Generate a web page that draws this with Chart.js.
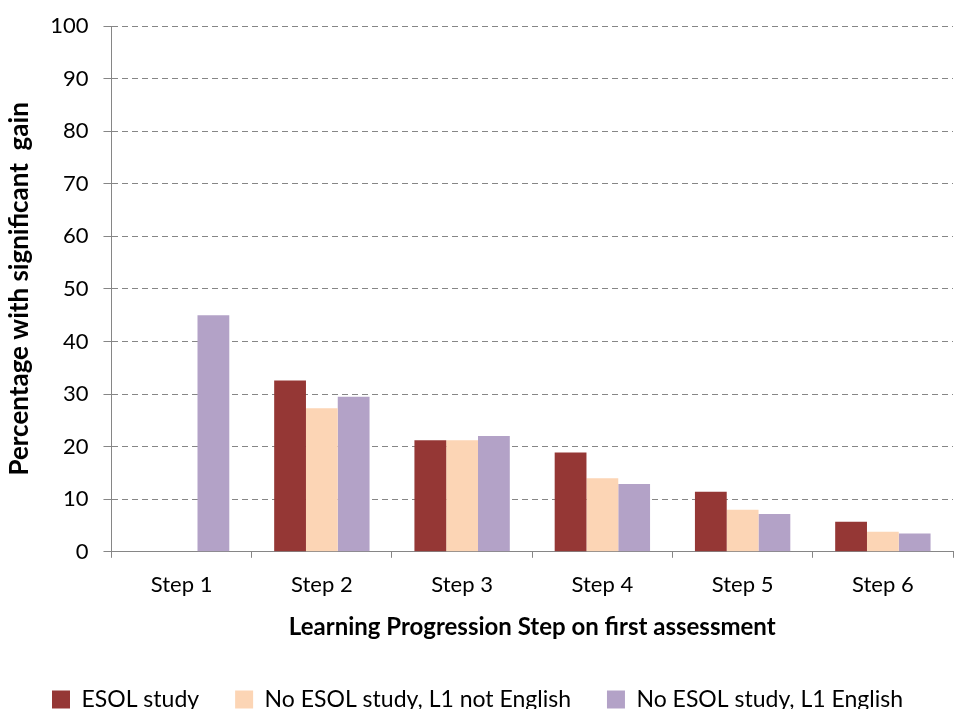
<!DOCTYPE html>
<html>
<head>
<meta charset="utf-8">
<script src="https://cdn.jsdelivr.net/npm/chart.js@4"></script>
<style>
  html, body { margin: 0; padding: 0; background: #fff; overflow: hidden; }
  #wrap { width: 958px; height: 721px; }
</style>
</head>
<body>
<div id="wrap"><canvas id="gainChart"></canvas></div>
<script>
// categories and series
const steps = ['Step 1', 'Step 2', 'Step 3', 'Step 4', 'Step 5', 'Step 6'];
const esolStudy = [0, 32.6, 21.2, 18.9, 11.4, 5.7];
const noEsolNotEnglish = [0, 27.3, 21.2, 14.0, 8.0, 3.8];
const noEsolEnglish = [45.0, 29.5, 22.0, 12.9, 7.2, 3.5];

const seriesNames = ['ESOL study', 'No ESOL study, L1 not English', 'No ESOL study, L1 English'];
const seriesColors = ['#953735', '#FCD5B5', '#B3A2C7'];

const gridGrey = '#868686';
const fontFamily = 'Lato, "Noto Sans", sans-serif';

Chart.defaults.font.family = fontFamily;
Chart.defaults.color = '#000';

const dataForBars = {
  labels: steps,
  datasets: [esolStudy, noEsolNotEnglish, noEsolEnglish].map((vals, i) => ({
    label: seriesNames[i],
    data: vals,
    backgroundColor: seriesColors[i],
    borderWidth: 0,
    barPercentage: 1,
    categoryPercentage: 0.68
  }))
};

new Chart(document.getElementById('gainChart'), {
  type: 'bar',
  data: dataForBars,
  options: {
    responsive: true,
    maintainAspectRatio: false,
    animation: false,
    layout: { padding: { left: 2, right: 5, top: 12, bottom: 0 } },
    plugins: {
      tooltip: { enabled: false },
      legend: {
        position: 'bottom',
        labels: {
          boxWidth: 18,
          boxHeight: 18,
          padding: 36,
          font: { size: 23 }
        }
      }
    },
    scales: {
      x: {
        grid: {
          offset: true,
          drawOnChartArea: false,
          tickLength: 6,
          color: gridGrey
        },
        border: { color: gridGrey, width: 1 },
        ticks: { padding: 14, font: { size: 22 } },
        title: {
          display: true,
          text: 'Learning Progression Step on first assessment',
          font: { size: 24, weight: 'bold' },
          padding: { top: 1, bottom: 10 }
        }
      },
      y: {
        min: 0,
        max: 100,
        ticks: { stepSize: 10, padding: 15, font: { size: 22, lineHeight: 1 } },
        grid: {
          color: gridGrey,
          lineWidth: 1,
          tickLength: 8,
          tickBorderDash: []
        },
        border: { color: gridGrey, width: 1, dash: [6, 4] },
        title: {
          display: true,
          text: 'Percentage with significant  gain',
          font: { size: 26, weight: 'bold' },
          padding: { top: 2, bottom: 0 }
        }
      }
    }
  }
});
</script>
</body>
</html>
